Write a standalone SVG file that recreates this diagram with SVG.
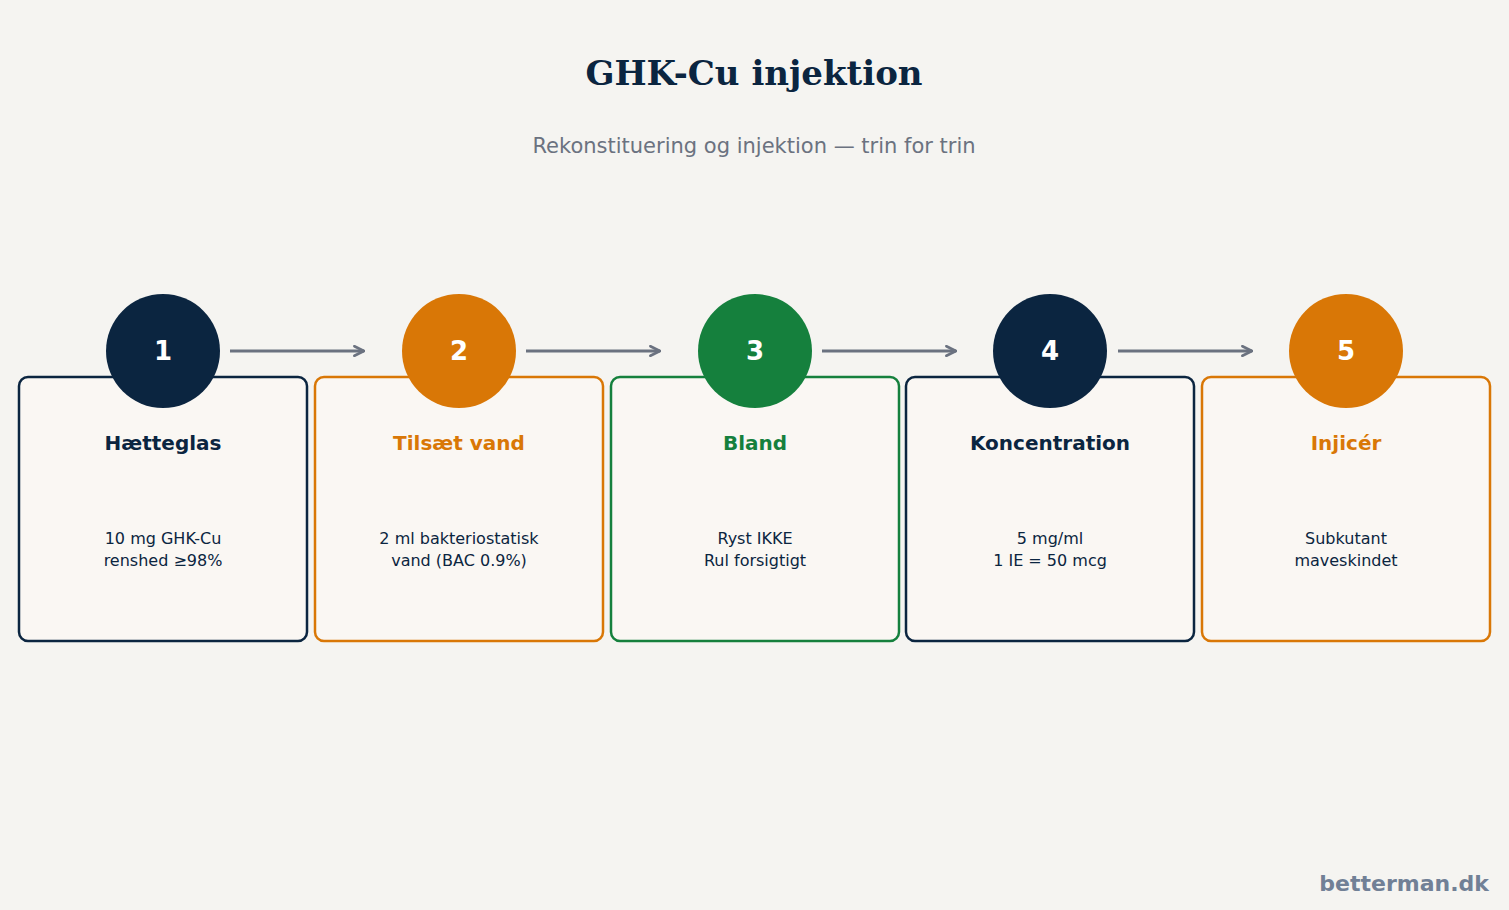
<svg xmlns="http://www.w3.org/2000/svg" width="1509" height="910" viewBox="0 0 1509 910">
<style>
.box{fill:#faf7f3;stroke-width:2.5}
.num{font:bold 26px "DejaVu Sans",sans-serif;fill:#fff;text-anchor:middle}
.h{font:bold 20px "DejaVu Sans",sans-serif;text-anchor:middle}
.d{font:16px "DejaVu Sans",sans-serif;fill:#0b2540;text-anchor:middle}
.c{stroke:#6b7280;stroke-width:3;fill:none;marker-end:url(#a)}
</style>
<defs><marker id="a" viewBox="0 0 10 10" refX="9" refY="5" markerWidth="4" markerHeight="4" orient="auto"><path d="M1,1 L9,5 L1,9" fill="none" stroke="#6b7280" stroke-width="2.2" stroke-linecap="round"/></marker></defs>
<rect width="1509" height="910" fill="#f5f4f1"/>
<text x="754" y="85" text-anchor="middle" style="font:bold 34px 'DejaVu Serif',serif;fill:#0b2540">GHK-Cu injektion</text>
<text x="754" y="153" text-anchor="middle" style="font:21px 'DejaVu Sans',sans-serif;fill:#6b7280">Rekonstituering og injektion — trin for trin</text>
<g id="connectors">
<path class="c" d="M230,351 H364"/><path class="c" d="M526,351 H660"/><path class="c" d="M822,351 H956"/><path class="c" d="M1118,351 H1252"/>
</g>
<g id="n1"><rect class="box" x="19" y="377" width="288" height="264" rx="9" stroke="#0b2540"/><circle cx="163" cy="351" r="57" fill="#0b2540"/><text class="num" x="163" y="360">1</text><text class="h" x="163" y="450" fill="#0b2540">Hætteglas</text><text class="d" x="163" y="544">10 mg GHK-Cu</text><text class="d" x="163" y="566">renshed ≥98%</text></g>
<g id="n2"><rect class="box" x="315" y="377" width="288" height="264" rx="9" stroke="#d97706"/><circle cx="459" cy="351" r="57" fill="#d97706"/><text class="num" x="459" y="360">2</text><text class="h" x="459" y="450" fill="#d97706">Tilsæt vand</text><text class="d" x="459" y="544">2 ml bakteriostatisk</text><text class="d" x="459" y="566">vand (BAC 0.9%)</text></g>
<g id="n3"><rect class="box" x="611" y="377" width="288" height="264" rx="9" stroke="#15803d"/><circle cx="755" cy="351" r="57" fill="#15803d"/><text class="num" x="755" y="360">3</text><text class="h" x="755" y="450" fill="#15803d">Bland</text><text class="d" x="755" y="544">Ryst IKKE</text><text class="d" x="755" y="566">Rul forsigtigt</text></g>
<g id="n4"><rect class="box" x="906" y="377" width="288" height="264" rx="9" stroke="#0b2540"/><circle cx="1050" cy="351" r="57" fill="#0b2540"/><text class="num" x="1050" y="360">4</text><text class="h" x="1050" y="450" fill="#0b2540">Koncentration</text><text class="d" x="1050" y="544">5 mg/ml</text><text class="d" x="1050" y="566">1 IE = 50 mcg</text></g>
<g id="n5"><rect class="box" x="1202" y="377" width="288" height="264" rx="9" stroke="#d97706"/><circle cx="1346" cy="351" r="57" fill="#d97706"/><text class="num" x="1346" y="360">5</text><text class="h" x="1346" y="450" fill="#d97706">Injicér</text><text class="d" x="1346" y="544">Subkutant</text><text class="d" x="1346" y="566">maveskindet</text></g>
<text x="1489" y="891" text-anchor="end" style="font:bold 22px 'DejaVu Sans',sans-serif;fill:#718096">betterman.dk</text>
</svg>
